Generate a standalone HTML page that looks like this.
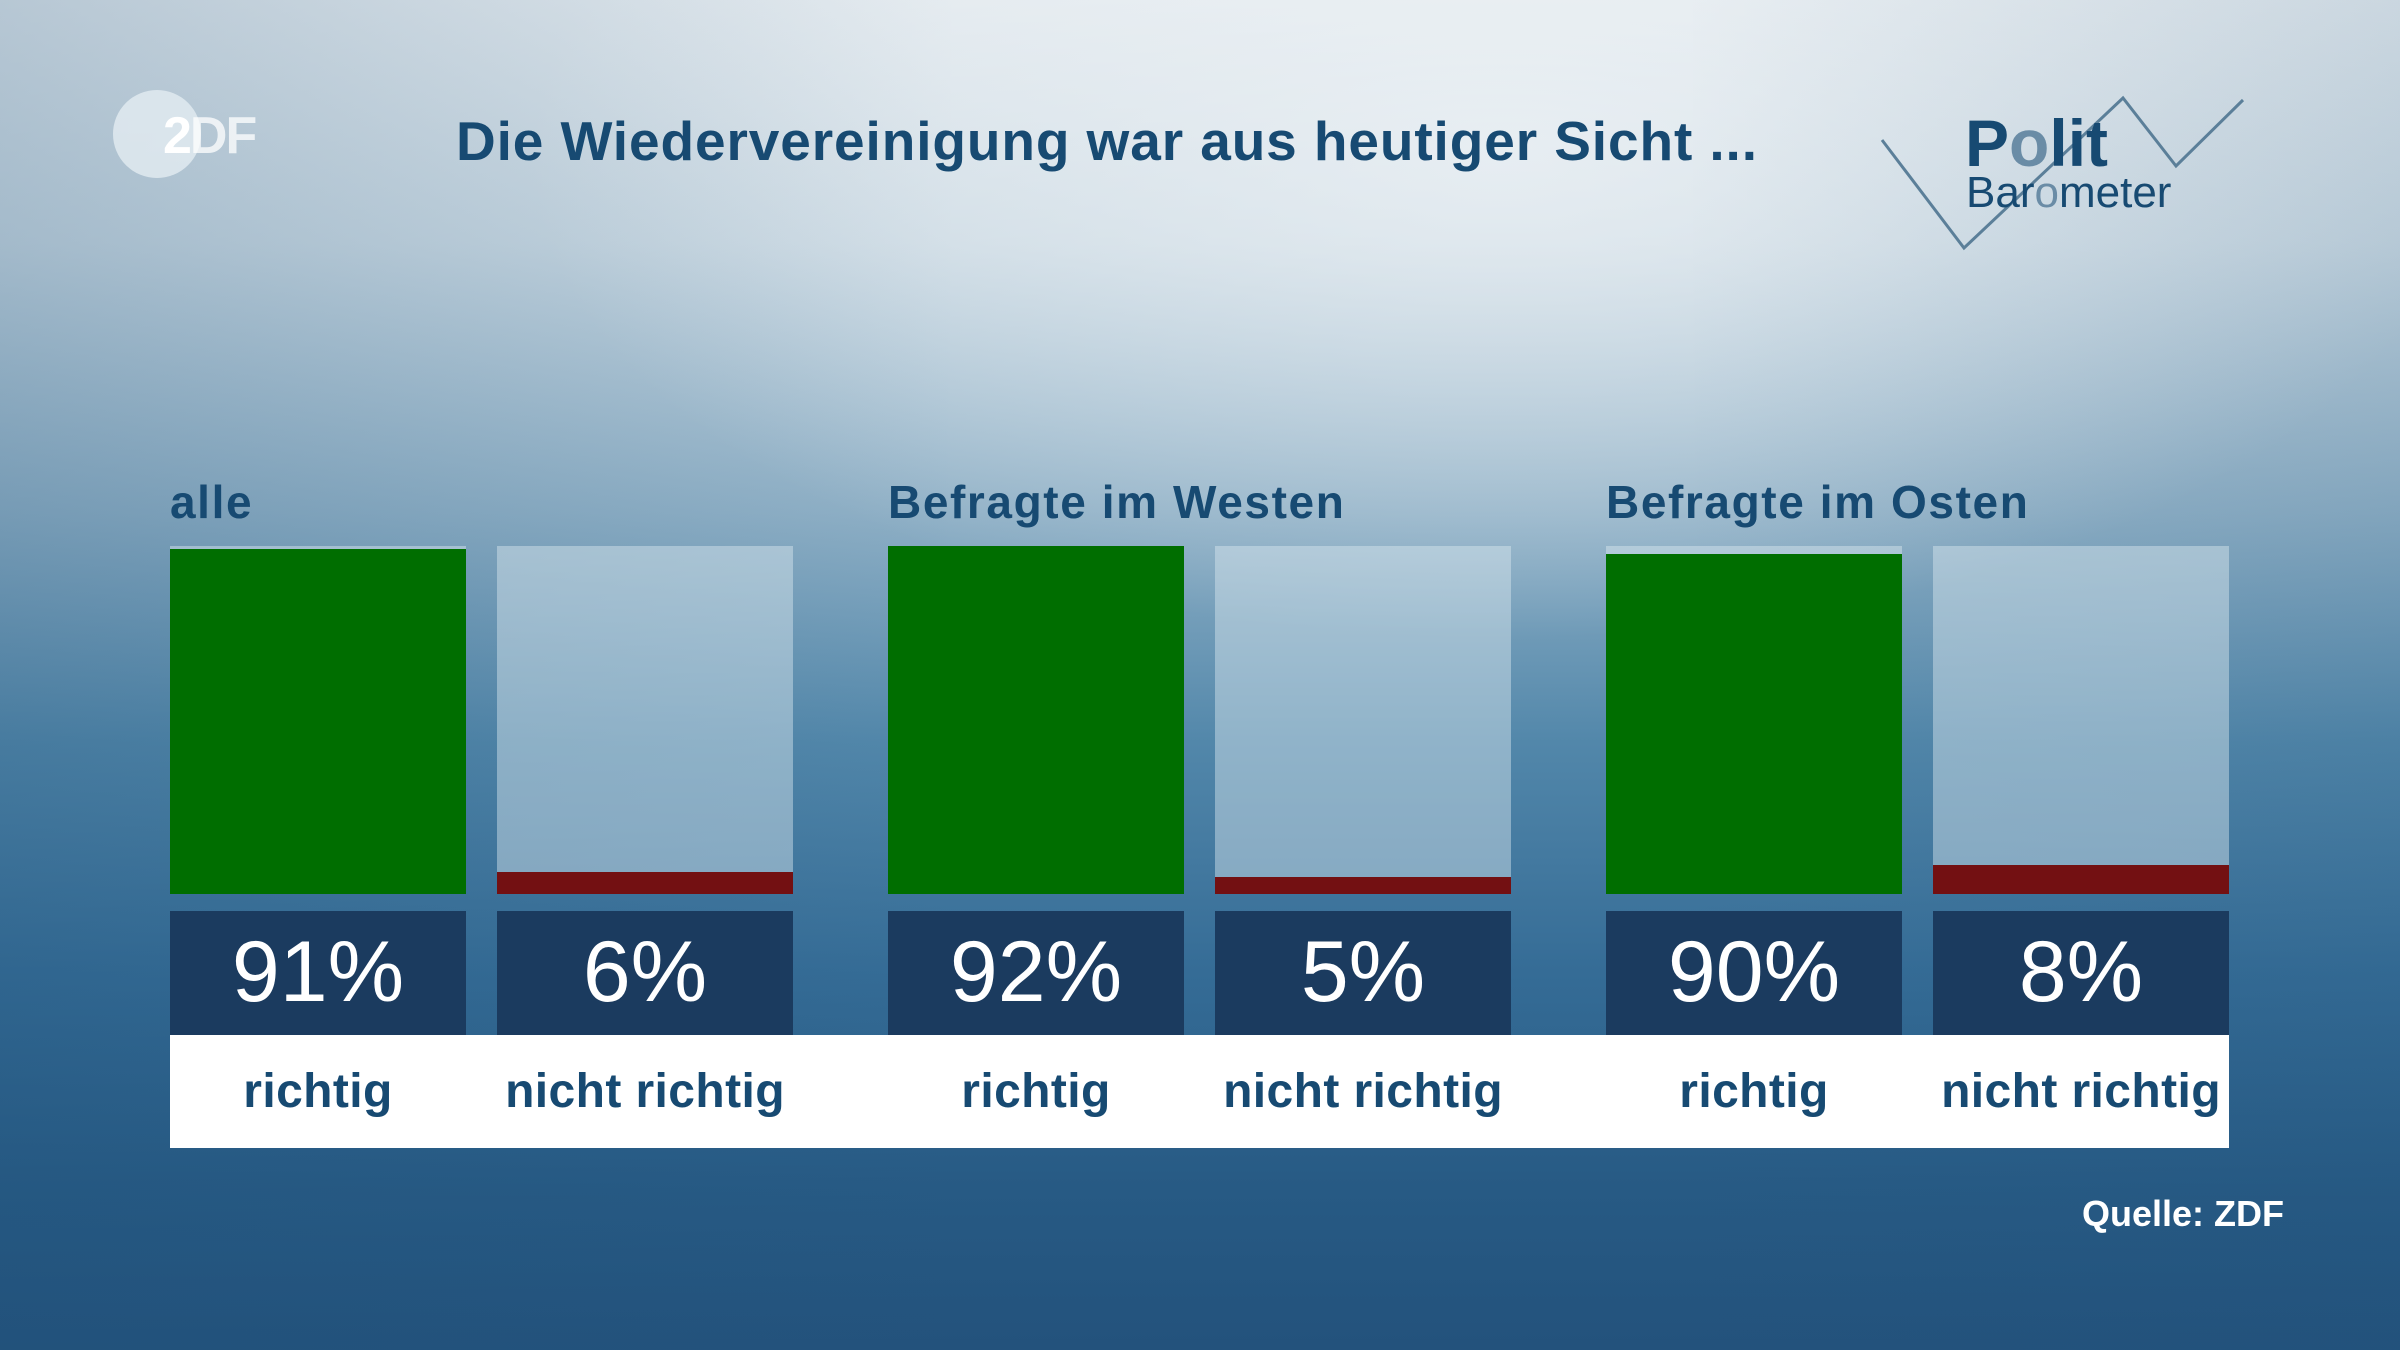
<!DOCTYPE html>
<html><head><meta charset="utf-8"><style>
*{margin:0;padding:0;box-sizing:border-box}
body{width:2400px;height:1350px;overflow:hidden;position:relative;font-family:"Liberation Sans",sans-serif;
background:linear-gradient(180deg,#e2e9ee 0%,#c9d8e2 18%,#8fb0c6 38%,#5287aa 55%,#356c96 72%,#275a84 88%,#23527c 100%);}
.ov{position:absolute;inset:0;background:radial-gradient(ellipse 1400px 700px at 1500px 150px,rgba(240,244,247,0.7),rgba(240,244,247,0) 70%);}
.ov2{position:absolute;inset:0;background:linear-gradient(90deg,rgba(30,80,120,0.22),rgba(30,80,120,0) 40%,rgba(30,80,120,0) 70%,rgba(30,80,120,0.12));}
.t{position:absolute;white-space:nowrap}
.title{left:456px;top:108px;font-size:55px;font-weight:bold;color:#174a72;line-height:66px;letter-spacing:0.9px}
.grp{font-size:46px;font-weight:bold;color:#174a72;top:472px;line-height:60px;letter-spacing:1.6px}
.bar{position:absolute;top:546px;width:296px;height:348px;background:rgba(220,232,240,0.45)}
.fill{position:absolute;left:0;right:0;bottom:0}
.box{position:absolute;top:911px;width:296px;height:124px;background:#1b3b5f;color:#fff;font-size:86px;text-align:center;line-height:122px}
.strip{position:absolute;left:170px;top:1035px;width:2059px;height:113px;background:#fff}
.lab{position:absolute;top:1035px;width:296px;height:113px;line-height:113px;text-align:center;font-size:48px;font-weight:bold;color:#174a72;letter-spacing:0.4px}
</style></head><body>
<div class="ov"></div><div class="ov2"></div>
<div style="position:absolute;left:113px;top:90px;width:88px;height:88px;border-radius:50%;background:rgba(225,234,240,0.85)"></div>
<div class="t" style="left:163px;top:106px;font-size:52px;font-weight:bold;color:#fff;line-height:60px;letter-spacing:-2px">2<span style="color:rgba(255,255,255,0.75)">DF</span></div>
<div class="t title">Die Wiedervereinigung war aus heutiger Sicht ...</div>
<svg style="position:absolute;left:0;top:0" width="2400" height="300"><polyline points="1882,140 1964,248 2123,98 2176,166 2243,100" fill="none" stroke="#5b7f99" stroke-width="3"/></svg>
<div class="t" style="left:1965px;top:108px;font-size:66px;font-weight:bold;color:#174a72;line-height:70px">P<span style="color:#6a8ca6">o</span>lit</div>
<div class="t" style="left:1966px;top:168px;font-size:44px;color:#174a72;line-height:50px">Bar<span style="color:#6a8ca6">o</span>meter</div>
<div class="t grp" style="left:170px">alle</div>
<div class="t grp" style="left:888px">Befragte im Westen</div>
<div class="t grp" style="left:1606px">Befragte im Osten</div>
<div class="bar" style="left:170px"><div class="fill" style="height:345px;background:#006e00"></div></div>
<div class="bar" style="left:497px"><div class="fill" style="height:22px;background:#731012"></div></div>
<div class="bar" style="left:888px"><div class="fill" style="height:348px;background:#006e00"></div></div>
<div class="bar" style="left:1215px"><div class="fill" style="height:17px;background:#731012"></div></div>
<div class="bar" style="left:1606px"><div class="fill" style="height:340px;background:#006e00"></div></div>
<div class="bar" style="left:1933px"><div class="fill" style="height:29px;background:#731012"></div></div>
<div class="box" style="left:170px">91%</div>
<div class="box" style="left:497px">6%</div>
<div class="box" style="left:888px">92%</div>
<div class="box" style="left:1215px">5%</div>
<div class="box" style="left:1606px">90%</div>
<div class="box" style="left:1933px">8%</div>
<div class="strip"></div>
<div class="lab" style="left:170px">richtig</div>
<div class="lab" style="left:497px">nicht richtig</div>
<div class="lab" style="left:888px">richtig</div>
<div class="lab" style="left:1215px">nicht richtig</div>
<div class="lab" style="left:1606px">richtig</div>
<div class="lab" style="left:1933px">nicht richtig</div>
<div class="t" style="left:2082px;top:1192px;font-size:36px;font-weight:bold;color:#fff;line-height:44px">Quelle: ZDF</div>
</body></html>
